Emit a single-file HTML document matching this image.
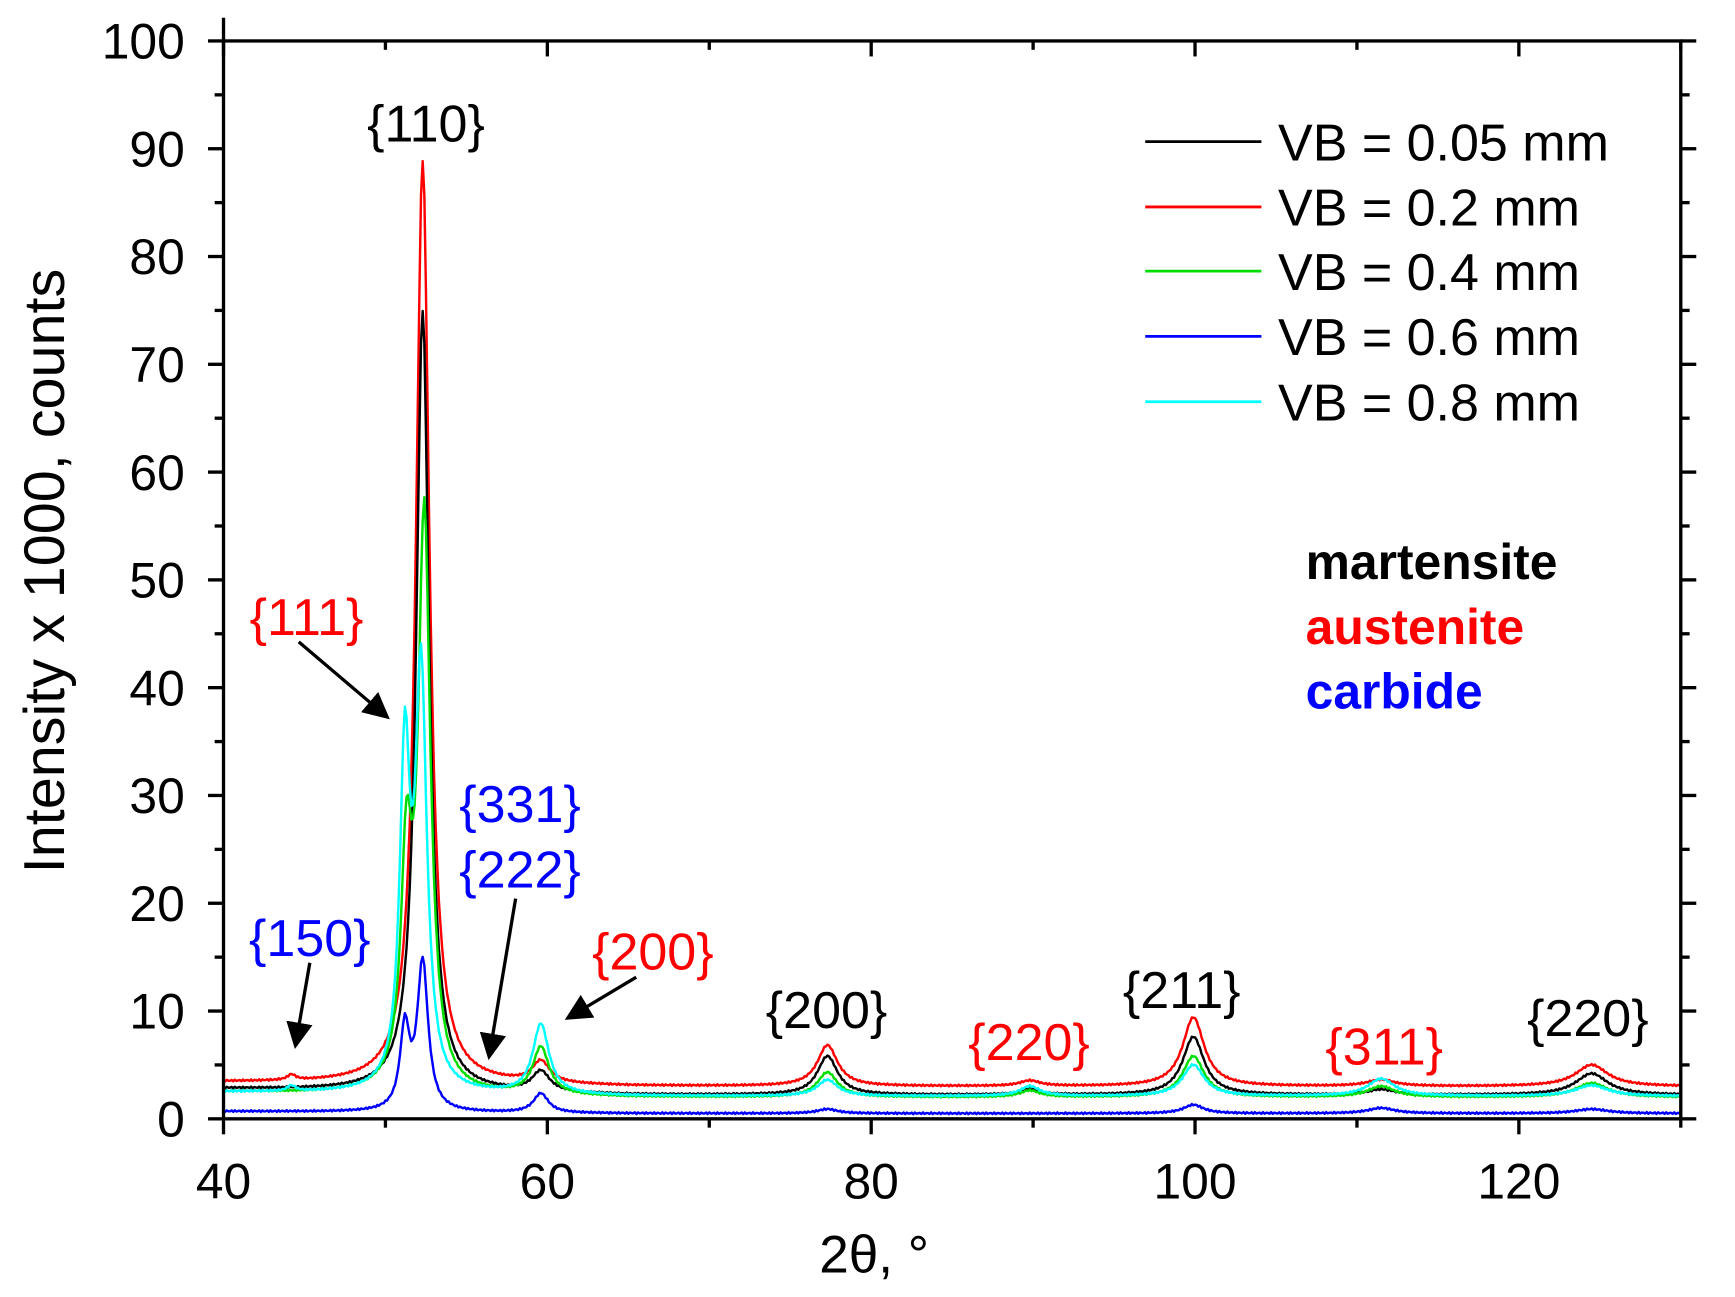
<!DOCTYPE html>
<html><head><meta charset="utf-8">
<style>
html,body{margin:0;padding:0;background:#fff;}
svg{display:block;}
text{font-family:"Liberation Sans",Arial,sans-serif;}
</style></head>
<body>
<svg id="s" width="1735" height="1297" viewBox="0 0 1568 1172" preserveAspectRatio="none" xmlns="http://www.w3.org/2000/svg">
<g id="curves" fill="none" stroke-width="2.2" stroke-linejoin="round"></g>
<g id="axes" stroke="#000" stroke-width="3" fill="none"></g>
<g id="labels" font-size="45" fill="#000"></g>
<text x="790" y="1150" font-size="48" text-anchor="middle">2θ, °</text>
<text transform="translate(58,516) rotate(-90)" font-size="52" text-anchor="middle">Intensity x 1000, counts</text>
<g stroke-width="2.5">
<line x1="1035" y1="128" x2="1140" y2="128" stroke="#000"/>
<line x1="1035" y1="187" x2="1140" y2="187" stroke="#ff0000"/>
<line x1="1035" y1="245" x2="1140" y2="245" stroke="#00dd00"/>
<line x1="1035" y1="304" x2="1140" y2="304" stroke="#0000ff"/>
<line x1="1035" y1="363" x2="1140" y2="363" stroke="#00ffff"/>
</g>
<g font-size="47" fill="#000">
<text x="1155" y="145">VB = 0.05 mm</text>
<text x="1155" y="204">VB = 0.2 mm</text>
<text x="1155" y="262">VB = 0.4 mm</text>
<text x="1155" y="321">VB = 0.6 mm</text>
<text x="1155" y="380">VB = 0.8 mm</text>
</g>
<g font-size="45" font-weight="bold">
<text x="1180" y="523" fill="#000">martensite</text>
<text x="1180" y="582" fill="#ff0000">austenite</text>
<text x="1180" y="640" fill="#0000ff">carbide</text>
</g>
<g font-size="47" text-anchor="middle">
<text x="385" y="128" fill="#000">{110}</text>
<text x="277" y="574" fill="#ff0000">{111}</text>
<text x="280" y="864" fill="#0000ff">{150}</text>
<text x="470" y="743" fill="#0000ff">{331}</text>
<text x="470" y="802" fill="#0000ff">{222}</text>
<text x="590" y="876" fill="#ff0000">{200}</text>
<text x="747" y="929" fill="#000">{200}</text>
<text x="930" y="958" fill="#ff0000">{220}</text>
<text x="1068" y="911" fill="#000">{211}</text>
<text x="1251" y="962" fill="#ff0000">{311}</text>
<text x="1435" y="936" fill="#000">{220}</text>
</g>
<defs><marker id="ah" markerWidth="8" markerHeight="8" refX="7" refY="4" orient="auto" markerUnits="strokeWidth"><path d="M0,0 L8,4 L0,8 z" fill="#000"/></marker></defs>
<g stroke="#000" stroke-width="3" marker-end="url(#ah)">
<line x1="270" y1="580" x2="350" y2="648"/>
<line x1="280" y1="870" x2="267" y2="945"/>
<line x1="466" y1="812" x2="442" y2="955"/>
<line x1="575" y1="883" x2="513" y2="920"/>
</g>
</svg>
<script>
const X=v=>202+(v-40)*1317/90, Y=v=>1011-v*9.74;
const ax=document.getElementById('axes'), lb=document.getElementById('labels');
let h='<rect x="202" y="37" width="1317" height="974"/><line x1="202" y1="37" x2="202" y2="16"/>';
for(let v=40;v<=130;v+=10){const x=X(v),L=v%20==0?14:8;h+=`<line x1="${x}" y1="1011" x2="${x}" y2="${1011+L}"/><line x1="${x}" y1="37" x2="${x}" y2="${37+L}"/>`;}
for(let v=0;v<=100;v+=5){const y=Y(v),L=v%10==0?14:8;h+=`<line x1="202" y1="${y}" x2="${202-L}" y2="${y}"/><line x1="1519" y1="${y}" x2="${1519+L}" y2="${y}"/>`;}
ax.innerHTML=h;
let t='';
for(let v=40;v<=120;v+=20)t+=`<text x="${X(v)}" y="1083" text-anchor="middle">${v}</text>`;
for(let v=0;v<=100;v+=10)t+=`<text x="167" y="${Y(v)+16}" text-anchor="end">${v}</text>`;
lb.innerHTML=t;
const S=[
 ['#ff0000',[3.4,3.0],[[44.2,0.5,0.6],[52.3,85.7,1.0],[59.6,2.0,1.3],[77.3,3.8,1.5],[89.8,0.5,1.5],[99.9,6.4,1.6],[111.5,0.6,2],[124.5,2.0,2.4]]],
 ['#000000',[2.8,2.2],[[52.3,72.5,0.95],[59.6,1.9,1.3],[77.3,3.6,1.5],[89.8,0.5,1.5],[99.9,5.4,1.6],[111.5,0.5,2],[124.5,2.0,2.4]]],
 ['#00dd00',[2.5,2.0],[[51.3,20,0.8],[52.4,53,0.9],[59.6,4.4,1.2],[77.3,2.3,1.5],[89.8,0.6,1.5],[99.9,3.8,1.6],[111.5,1.0,2],[124.5,1.3,2.4]]],
 ['#0000ff',[0.7,0.5],[[51.2,7.5,0.7],[52.3,13.8,0.8],[59.6,1.8,1.1],[77.3,0.4,1.5],[99.9,0.8,1.5],[111.5,0.5,2],[124.5,0.4,2.4]]],
 ['#00ffff',[2.5,2.1],[[44.2,0.5,0.6],[51.2,30,0.75],[52.2,38,0.85],[59.6,6.5,1.2],[77.3,1.5,1.5],[89.8,0.9,1.5],[99.9,2.9,1.6],[111.5,1.6,2],[124.5,1.0,2.4]]]
];
let c='';
for(const [col,b,pk] of S){let d='';
 for(let x=40;x<=130.001;x+=0.1){let base=b[0]+(b[1]-b[0])*Math.min(1,(x-40)/25);let y=base+(Math.sin(x*37.1)*0.08);
  for(const [p,a,w] of pk){const u=(x-p)/(w/2);y+=a/(1+u*u);}
  d+=(d?'L':'M')+X(x).toFixed(1)+','+Y(y).toFixed(1);}
 c+=`<path d="${d}" stroke="${col}"/>`;}
document.getElementById('curves').innerHTML=c;
</script>
</body></html>
